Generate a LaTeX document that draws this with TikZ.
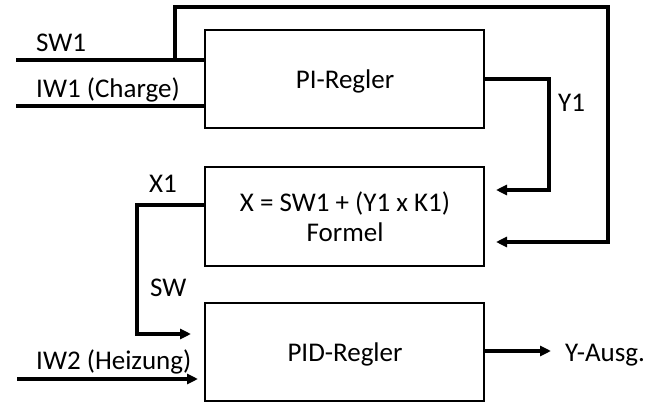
\documentclass[tikz,border=0pt]{standalone}
\usepackage{fontspec}
\setmainfont{Carlito}
\usetikzlibrary{arrows.meta,calc}
\tikzset{
  blk/.style={draw, line width=2.3pt, minimum width=279pt, minimum height=98pt, inner sep=0pt},
  wire/.style={line width=4pt, line join=miter},
  arr/.style={wire, -{Triangle[length=11pt,width=10pt]}},
  txt/.style={anchor=base west, inner sep=0pt, font=\fontsize{27}{32}\selectfont},
  ctxt/.style={anchor=base, inner sep=0pt, font=\fontsize{27}{32}\selectfont}
}
\begin{document}
\begin{tikzpicture}[x=1pt,y=-1pt]
\useasboundingbox (0,0) rectangle (662,403);
% blocks
\node[blk] (pi) at (344.5,79) {};
\node[blk, minimum height=99pt] (fo) at (344.5,216.5) {};
\node[blk] (pid) at (344.5,352) {};
% block texts
\node[ctxt] (tpi) at (345,89) {PI-Regler};
\node[ctxt] (tfo1) at (345,212) {X = SW1 + (Y1 x K1)};
\node[ctxt] (tfo2) at (345,242) {Formel};
\node[ctxt] (tpid) at (345,362) {PID-Regler};
% free ends and bends
\coordinate (sw1in) at (16,60);
\coordinate (sw1pi) at (pi.west |- sw1in);
\coordinate (br) at (175,60);
\coordinate (brtop) at (175,7);
\coordinate (rtop) at (608,7);
\coordinate (rbot) at (608,242);
\coordinate (fbin) at (496,242);
\coordinate (iw1in) at (16,106);
\coordinate (iw1pi) at (pi.west |- iw1in);
\coordinate (y1out) at (pi.east |- 0,79);
\coordinate (y1r) at (549,79);
\coordinate (y1rb) at (549,190);
\coordinate (y1in) at (496,190);
\coordinate (x1out) at (fo.west |- 0,205);
\coordinate (x1l) at (137,205);
\coordinate (x1lb) at (137,334);
\coordinate (swin) at (191,334);
\coordinate (iw2in) at (17,379);
\coordinate (iw2end) at (198,379);
\coordinate (yout) at (pid.east |- 0,351);
\coordinate (yend) at (551,351);
% connectors
\draw[wire] (sw1in) -- (sw1pi);
\draw[arr] ([yshift=-2pt]br) -- (brtop) -- (rtop) -- (rbot) -- (fbin);
\draw[wire] (iw1in) -- (iw1pi);
\draw[arr] (y1out) -- (y1r) -- (y1rb) -- (y1in);
\draw[arr] (x1out) -- (x1l) -- (x1lb) -- (swin);
\draw[arr] (iw2in) -- (iw2end);
\draw[arr] (yout) -- (yend);
% labels
\node[txt] (lsw1) at (36,52) {SW1};
\node[txt] (liw1) at (36,98) {IW1 (Charge)};
\node[txt] (ly1) at (558,112) {Y1};
\node[txt] (lx1) at (149,193) {X1};
\node[txt] (lsw) at (150,297) {SW};
\node[txt] (liw2) at (36,370) {IW2 (Heizung)};
\node[txt] (lya) at (565,362) {Y-Ausg.};
\end{tikzpicture}
\end{document}
